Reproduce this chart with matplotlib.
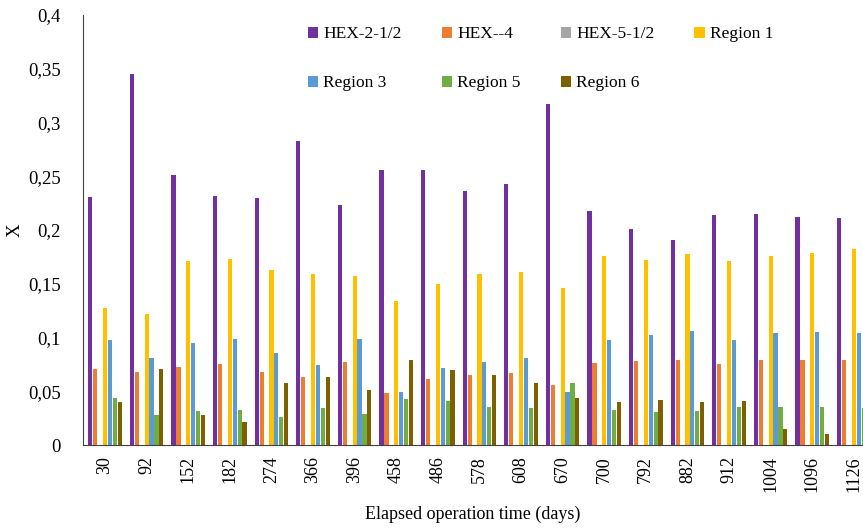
import numpy as np
import matplotlib.pyplot as plt

plt.rcParams['font.family'] = ['Liberation Serif', 'DejaVu Serif']

# 数据
days = ['30', '92', '152', '182', '274', '366', '396', '458', '486', '578',
        '608', '670', '700', '792', '882', '912', '1004', '1096', '1126']

hex_2_half = [0.231, 0.345, 0.251, 0.232, 0.230, 0.283, 0.223, 0.256, 0.256, 0.236,
              0.243, 0.317, 0.218, 0.201, 0.191, 0.214, 0.215, 0.212, 0.211]
hex_4 = [0.071, 0.068, 0.073, 0.075, 0.068, 0.063, 0.077, 0.048, 0.061, 0.065,
         0.067, 0.056, 0.076, 0.078, 0.079, 0.075, 0.079, 0.079, 0.079]
hex_5_half = [0] * 19
region1 = [0.127, 0.122, 0.171, 0.173, 0.163, 0.159, 0.157, 0.134, 0.150, 0.159,
           0.161, 0.146, 0.176, 0.172, 0.178, 0.171, 0.176, 0.179, 0.182]
region3 = [0.098, 0.081, 0.095, 0.099, 0.086, 0.074, 0.099, 0.049, 0.072, 0.077,
           0.081, 0.049, 0.098, 0.102, 0.106, 0.098, 0.104, 0.105, 0.104]
region5 = [0.044, 0.028, 0.032, 0.033, 0.026, 0.034, 0.029, 0.043, 0.041, 0.035,
           0.034, 0.058, 0.033, 0.031, 0.032, 0.035, 0.035, 0.035, 0.034]
region6 = [0.040, 0.071, 0.028, 0.021, 0.058, 0.063, 0.051, 0.079, 0.070, 0.065,
           0.058, 0.044, 0.040, 0.042, 0.040, 0.041, 0.015, 0.010, 0.011]

labels = ['HEX-2-1/2', 'HEX--4', 'HEX-5-1/2', 'Region 1', 'Region 3', 'Region 5', 'Region 6']
colors = ['#7030A0', '#ED7D31', '#A5A5A5', '#FFC000', '#5B9BD5', '#70AD47', '#7F6000']
series = [hex_2_half, hex_4, hex_5_half, region1, region3, region5, region6]

fig = plt.figure(figsize=(8.63, 5.29), dpi=100)
ax = fig.add_axes([83 / 863, 84 / 529, 780 / 863, 430 / 529])

x = np.arange(len(days))
slot = 0.118
bw = 0.1
handles = []
for i, (vals, c, lab) in enumerate(zip(series, colors, labels)):
    b = ax.bar(x + (i - 3) * slot, vals, width=bw, color=c, label=lab)
    handles.append(b)

ax.set_xlim(-0.53, -0.53 + 780 / 41.6)
ax.set_ylim(0, 0.4)
yt = np.arange(0, 0.41, 0.05)
ax.set_yticks(yt)
ax.set_yticklabels(['0', '0,05', '0,1', '0,15', '0,2', '0,25', '0,3', '0,35', '0,4'])
ax.set_xticks(x)
ax.set_xticklabels(days, rotation=90)
ax.tick_params(axis='y', length=0, pad=16, labelsize=13.5)
ax.tick_params(axis='x', length=0, pad=8, labelsize=13)

for s in ['top', 'right']:
    ax.spines[s].set_visible(False)
ax.spines['left'].set_color('#404040')
ax.spines['bottom'].set_color('#404040')

ax.set_xlabel('Elapsed operation time (days)', fontsize=13, labelpad=10)
ax.set_ylabel('X', fontsize=13.5, labelpad=3)

# 图例按行排列
order = [0, 4, 1, 5, 2, 6, 3]
ax.legend([handles[k] for k in order], [labels[k] for k in order], ncol=4,
          loc='upper left', bbox_to_anchor=(0.268, 1.01), frameon=False,
          fontsize=12.5, handlelength=0.6, handleheight=0.6, handletextpad=0.3,
          columnspacing=2.3, labelspacing=1.9)

fig.savefig('out.png', dpi=100)
